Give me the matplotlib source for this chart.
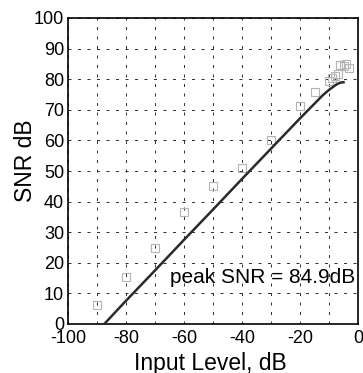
import matplotlib
matplotlib.use("Agg")
import matplotlib.pyplot as plt
import numpy as np

plt.rcParams["font.family"] = ["Liberation Sans", "DejaVu Sans"]
plt.rcParams["axes.unicode_minus"] = False

# measured SNR (squares)
meas_level = [-90, -80, -70, -60, -50, -40, -30, -20, -15, -10, -9, -8, -7, -6.3, -5, -4, -3.2]
meas_snr = [6.2, 15.5, 25.0, 36.5, 45.0, 51.0, 60.0, 71.3, 75.8, 79.4, 80.3, 81.0, 81.6, 84.5, 84.3, 85.0, 83.7]

# simulated SNR (line)
sim_level = [-87.5, -80, -70, -60, -50, -40, -30, -20, -15, -12, -10, -9, -8, -7, -6, -5]
sim_snr = [0.0, 7.6, 17.5, 27.5, 37.4, 47.4, 57.3, 67.2, 72.0, 74.9, 76.5, 77.2, 77.9, 78.5, 78.9, 79.0]

x_ticks = [-100, -80, -60, -40, -20, 0]
y_ticks = list(range(0, 101, 10))

fig = plt.figure(figsize=(3.63, 3.73), dpi=100)
ax = fig.add_axes([68 / 363, 1 - 324 / 373, 290 / 363, 306 / 373])

ax.plot(sim_level, sim_snr, color="#2a2a2a", lw=1.8, zorder=3)
ax.plot(meas_level, meas_snr, ls="none", marker="s", ms=5.2, mfc="none",
        mec="#b4b4b4", mew=0.8, zorder=2)

ax.set_xlim(-100, 0)
ax.set_ylim(0, 100)
ax.set_xticks(x_ticks)
ax.set_xticks(range(-90, 0, 10), minor=True)
ax.set_yticks(y_ticks)
ax.tick_params(which="both", length=0, labelsize=13, colors="black")
ax.tick_params(axis="x", pad=4)
ax.tick_params(axis="y", pad=2.8)
ax.grid(True, which="both", color="#333333", lw=0.72, ls=(0, (3, 6.5)))

for s in ax.spines.values():
    s.set_linewidth(1.2)

ax.set_xlabel("Input Level, dB", fontsize=16.5)
ax.set_ylabel("SNR dB", fontsize=16.5)
ax.xaxis.set_label_coords(0.49, -0.09)
ax.yaxis.set_label_coords(-0.108, 0.533)

ax.text(-64.7, 13.5, "peak SNR = 84.9dB", fontsize=15, va="baseline", ha="left")

fig.savefig("out.png", dpi=100)
